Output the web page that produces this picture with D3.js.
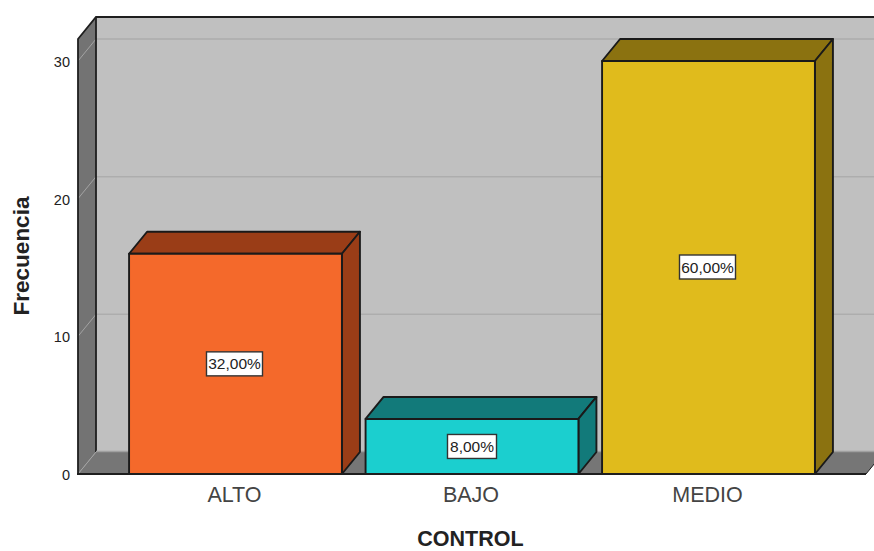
<!DOCTYPE html>
<html>
<head>
<meta charset="utf-8">
<script src="https://cdn.jsdelivr.net/npm/d3@7/dist/d3.min.js"></script>
<style>
  html, body { margin: 0; padding: 0; background: #fff; }
  svg { display: block; font-family: "Liberation Sans", Arial, sans-serif; }
</style>
</head>
<body>
<svg width="874" height="551"></svg>
<script>
const categories = ["ALTO", "BAJO", "MEDIO"];
const frequencies = [16, 4, 30];
const percentLabels = ["32,00%", "8,00%", "60,00%"];
const frontColors = ["#f4692b", "#1bcfcf", "#e0bb1c"];
const topColors = ["#9a3d17", "#127a7a", "#8b7210"];
const yTicks = [0, 10, 20, 30];

const svg = d3.select("svg");
const left = 78, right = 866, bottom = 474;
const depthX = 18, depthY = -22;

const y = d3.scaleLinear().domain([0, 30]).range([bottom, 61]);
const x = d3.scaleBand().domain(categories).range([117.25, 826.75])
    .paddingInner(0.1).paddingOuter(0.05);
const yTop = 39;

function poly(points) {
    return "M" + points.map(p => p.join(",")).join("L") + "Z";
}

// walls
svg.append("path")
    .attr("d", poly([[left + depthX, yTop + depthY], [right + depthX + 20, yTop + depthY], [right + depthX + 20, bottom + depthY], [left + depthX, bottom + depthY]]))
    .attr("fill", "#c0c0c0");
svg.append("path")
    .attr("d", poly([[left, yTop], [left + depthX, yTop + depthY], [left + depthX, bottom + depthY], [left, bottom]]))
    .attr("fill", "#737373");
svg.append("path")
    .attr("d", poly([[left, bottom], [left + depthX, bottom + depthY], [right + depthX, bottom + depthY], [right, bottom]]))
    .attr("fill", "#767676");

// gridlines, back wall and side wall
const grid = svg.append("g").selectAll("g").data(yTicks).enter().append("g");
grid.filter(d => d > 0).append("line")
    .attr("x1", left + depthX).attr("x2", 874)
    .attr("y1", d => y(d) + depthY).attr("y2", d => y(d) + depthY)
    .attr("stroke", "#adadad").attr("stroke-width", 1.5);
grid.append("line")
    .attr("x1", left).attr("x2", left + depthX)
    .attr("y1", d => y(d)).attr("y2", d => y(d) + depthY)
    .attr("stroke", "#a3a3a3").attr("stroke-width", 1);

// wall outlines
svg.append("path")
    .attr("d", `M${left},${bottom}L${left},${yTop}L${left + depthX},${yTop + depthY}L874,${yTop + depthY}`)
    .attr("fill", "none").attr("stroke", "#1e1e1e").attr("stroke-width", 1.8);
svg.append("line")
    .attr("x1", left + depthX).attr("x2", left + depthX)
    .attr("y1", yTop + depthY).attr("y2", bottom + depthY)
    .attr("stroke", "#1e1e1e").attr("stroke-width", 1.8);
svg.append("line")
    .attr("x1", left + depthX).attr("x2", 874)
    .attr("y1", bottom + depthY - 0.5).attr("y2", bottom + depthY - 0.5)
    .attr("stroke", "#a0a0a0").attr("stroke-width", 1.5);
svg.append("line")
    .attr("x1", right).attr("x2", right + 8.5)
    .attr("y1", bottom).attr("y2", bottom - 10.4)
    .attr("stroke", "#1e1e1e").attr("stroke-width", 1);

// bars
const bars = svg.append("g").selectAll("g").data(categories).enter().append("g");
bars.append("path") // top face
    .attr("d", (d, i) => {
        const x0 = x(d), x1 = x0 + x.bandwidth(), t = y(frequencies[i]);
        return poly([[x0, t], [x0 + depthX, t + depthY], [x1 + depthX, t + depthY], [x1, t]]);
    })
    .attr("fill", (d, i) => topColors[i]);
bars.append("path") // side face
    .attr("d", (d, i) => {
        const x1 = x(d) + x.bandwidth(), t = y(frequencies[i]);
        return poly([[x1, t], [x1 + depthX, t + depthY], [x1 + depthX, bottom + depthY], [x1, bottom]]);
    })
    .attr("fill", (d, i) => topColors[i]);
bars.append("rect") // front face
    .attr("x", d => x(d))
    .attr("y", (d, i) => y(frequencies[i]))
    .attr("width", x.bandwidth())
    .attr("height", (d, i) => bottom - y(frequencies[i]))
    .attr("fill", (d, i) => frontColors[i]);
bars.selectAll("path,rect")
    .attr("stroke", "#1a1a1a")
    .attr("stroke-width", 1.9)
    .attr("stroke-linejoin", "round");

// baseline
svg.append("line")
    .attr("x1", left - 1).attr("x2", right)
    .attr("y1", bottom).attr("y2", bottom)
    .attr("stroke", "#1e1e1e").attr("stroke-width", 2);

// value labels
const labels = bars.append("g")
    .attr("transform", (d, i) => `translate(${x(d) + x.bandwidth() / 2 + (i === 1 ? 0 : -1)},${(y(frequencies[i]) + bottom) / 2 + (i === 2 ? -0.5 : 0)})`);
labels.append("rect")
    .attr("x", (d, i) => i === 1 ? -24.5 : -28)
    .attr("y", -12)
    .attr("width", (d, i) => i === 1 ? 49 : 56)
    .attr("height", 24)
    .attr("fill", "#fff").attr("stroke", "#333").attr("stroke-width", 1.4);
labels.append("text")
    .attr("text-anchor", "middle")
    .attr("y", 5.5)
    .attr("font-size", 15.5)
    .attr("fill", "#222")
    .text((d, i) => percentLabels[i]);

// axes
const yAxis = svg.append("g")
    .attr("transform", `translate(${left},1)`)
    .call(d3.axisLeft(y).tickValues(yTicks).tickSize(0).tickPadding(8));
yAxis.select(".domain").remove();
yAxis.selectAll("text").attr("font-size", 14.5).attr("fill", "#222")
    .attr("font-family", "Liberation Sans");

const xAxis = svg.append("g")
    .attr("transform", `translate(-1,${bottom})`)
    .call(d3.axisBottom(x).tickSize(0).tickPadding(13));
xAxis.select(".domain").remove();
xAxis.selectAll("text").attr("font-size", 21.5).attr("fill", "#444")
    .attr("font-family", "Liberation Sans");

svg.append("text")
    .attr("x", 470.5).attr("y", 546)
    .attr("text-anchor", "middle")
    .attr("font-size", 21.5).attr("font-weight", "bold").attr("fill", "#222")
    .text("CONTROL");
svg.append("text")
    .attr("transform", "translate(29,256) rotate(-90)")
    .attr("text-anchor", "middle")
    .attr("font-size", 22.5).attr("font-weight", "bold").attr("fill", "#222")
    .text("Frecuencia");
</script>
</body>
</html>
